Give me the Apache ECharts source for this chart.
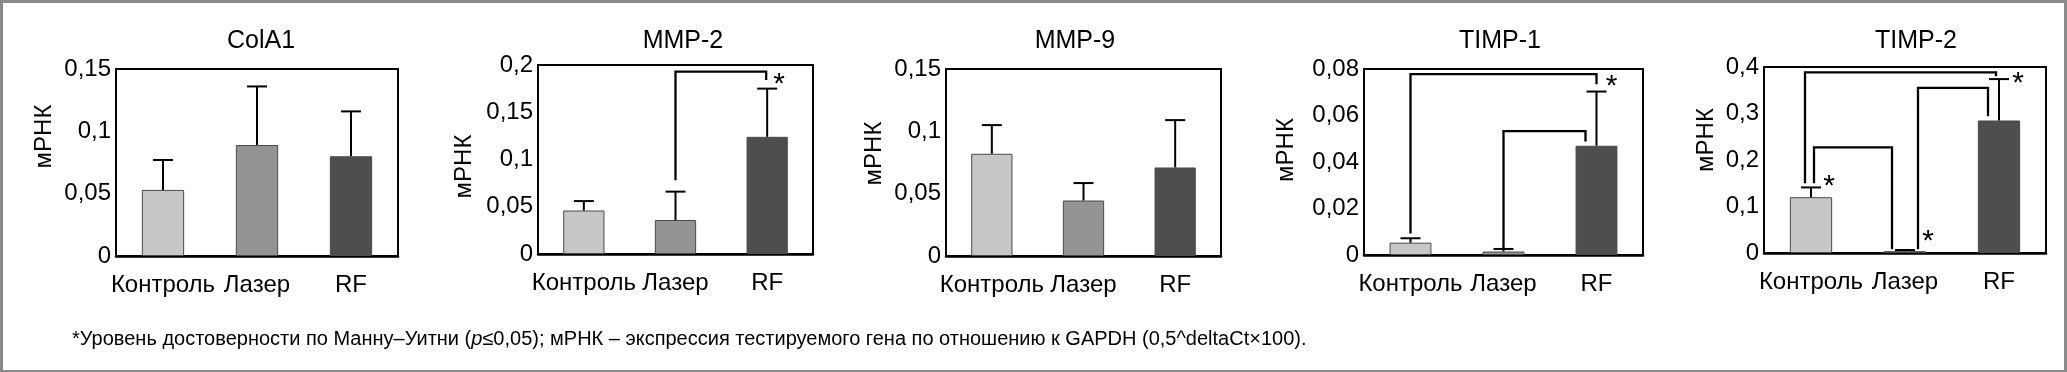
<!DOCTYPE html>
<html>
<head>
<meta charset="utf-8">
<script src="https://cdn.jsdelivr.net/npm/echarts@6/dist/echarts.min.js"></script>
<style>
html,body{margin:0;padding:0;background:#fff;}
#c{width:2067px;height:372px;box-sizing:border-box;border:3px solid #8a8a8a;border-bottom-width:2px;}
</style>
</head>
<body>
<div id="c"></div>
<script>
// ---------- data ----------
const categories = ['Контроль', 'Лазер', 'RF'];
const panelTitles = ['ColA1', 'MMP-2', 'MMP-9', 'TIMP-1', 'TIMP-2'];
const yAxisName = 'мРНК';

const colA1Mean = [0.053, 0.089, 0.080];
const colA1Sd   = [0.024, 0.047, 0.036];
const mmp2Mean  = [0.046, 0.036, 0.124];
const mmp2Sd    = [0.010, 0.030, 0.051];
const mmp9Mean  = [0.082, 0.0445, 0.071];
const mmp9Sd    = [0.023, 0.014, 0.038];
const timp1Mean = [0.0053, 0.0015, 0.047];
const timp1Sd   = [0.0019, 0.0011, 0.0233];
const timp2Mean = [0.120, 0.004, 0.285];
const timp2Sd   = [0.021, 0.0025, 0.089];

const colA1Ticks = ['0', '0,05', '0,1', '0,15'];
const mmp2Ticks  = ['0', '0,05', '0,1', '0,15', '0,2'];
const mmp9Ticks  = ['0', '0,05', '0,1', '0,15'];
const timp1Ticks = ['0', '0,02', '0,04', '0,06', '0,08'];
const timp2Ticks = ['0', '0,1', '0,2', '0,3', '0,4'];

// significance brackets: [fromCategory, fromValue, topValue, toCategory, toValue]
const colA1Brackets = [];
const mmp2Brackets  = [[1, 0.078, 0.193, 2, 0.184]];
const mmp9Brackets  = [];
const timp1Brackets = [[0, 0.0093, 0.0778, 2, 0.0734], [1, 0.0027, 0.0533, 2, 0.0488]];
const timp2Brackets = [[0, 0.150, 0.3886, 2, 0.380], [0, 0.150, 0.2273, 1, 0.008], [1, 0.008, 0.355, 2, 0.294]];

// asterisks: [category, value]
const colA1Stars = [];
const mmp2Stars  = [[2, 0.185]];
const mmp9Stars  = [];
const timp1Stars = [[2, 0.0750]];
const timp2Stars = [[0, 0.155], [1, 0.037], [2, 0.376]];

const footnoteText = ['*Уровень достоверности по Манну–Уитни (', 'p', '≤0,05); мРНК – экспрессия тестируемого гена по отношению к GAPDH (0,5^deltaCt×100).'];

// ---------- layout / style ----------
const FONT = '"Liberation Sans", Arial, sans-serif';
const barColors = ['#c6c7c9', '#939496', '#4e4e50'];
const panels = [
  {mean: colA1Mean, sd: colA1Sd, ticks: colA1Ticks, max: 0.15, step: 0.05, br: colA1Brackets, stars: colA1Stars,
   grid: {left: 113, top: 66, width: 282, height: 187}, nameGap: 60, nameShift: 26, titleX: 253,
   brShift: [], starShift: []},
  {mean: mmp2Mean, sd: mmp2Sd, ticks: mmp2Ticks, max: 0.2, step: 0.05, br: mmp2Brackets, stars: mmp2Stars,
   grid: {left: 535, top: 62, width: 275, height: 189}, nameGap: 62, nameShift: -7, titleX: 675,
   brShift: [[0, -1]], starShift: [[12, 0]]},
  {mean: mmp9Mean, sd: mmp9Sd, ticks: mmp9Ticks, max: 0.15, step: 0.05, br: mmp9Brackets, stars: mmp9Stars,
   grid: {left: 943, top: 66, width: 275, height: 187}, nameGap: 60, nameShift: 9, titleX: 1067,
   brShift: [], starShift: []},
  {mean: timp1Mean, sd: timp1Sd, ticks: timp1Ticks, max: 0.08, step: 0.02, br: timp1Brackets, stars: timp1Stars,
   grid: {left: 1361, top: 66, width: 279, height: 186}, nameGap: 66, nameShift: 12, titleX: 1492,
   brShift: [[0, 0], [0, -11]], starShift: [[15, 0]]},
  {mean: timp2Mean, sd: timp2Sd, ticks: timp2Ticks, max: 0.4, step: 0.1, br: timp2Brackets, stars: timp2Stars,
   grid: {left: 1761, top: 64, width: 282, height: 186}, nameGap: 46, nameShift: 20, titleX: 1908,
   brShift: [[-6, -3], [3, -13], [13, -11]], starShift: [[18, 0], [23, 0], [19, 0]]}
];

const chart = echarts.init(document.getElementById('c'), null, {renderer: 'canvas'});
const option = {
  animation: false,
  backgroundColor: '#fff',
  title: [], grid: [], xAxis: [], yAxis: [], series: [],
  graphic: [{
    type: 'text', left: 69, top: 326,
    style: {
      rich: {n: {font: '20px ' + FONT, fill: '#000'}, i: {font: 'italic 20px ' + FONT, fill: '#000'}},
      text: '{n|' + footnoteText[0] + '}{i|' + footnoteText[1] + '}{n|' + footnoteText[2] + '}'
    }
  }]
};

panels.forEach((p, k) => {
  option.title.push({
    text: panelTitles[k], left: p.titleX, top: 21, textAlign: 'center',
    textStyle: {fontFamily: FONT, fontSize: 25, fontWeight: 'normal', color: '#000'}
  });
  option.grid.push(Object.assign({show: true, borderColor: '#000', borderWidth: 2, backgroundColor: 'transparent'}, p.grid));
  option.xAxis.push({
    type: 'category', gridIndex: k, data: categories, boundaryGap: true,
    axisLine: {show: true, lineStyle: {color: '#000', width: 2.5}}, axisTick: {show: false},
    axisLabel: {color: '#000', fontFamily: FONT, fontSize: 24, margin: 17, interval: 0}
  });
  option.yAxis.push({
    type: 'value', gridIndex: k, min: 0, max: p.max, interval: p.step,
    name: yAxisName, nameLocation: 'middle', nameGap: p.nameGap, nameRotate: 90,
    nameTextStyle: {color: '#000', fontFamily: FONT, fontSize: 24,
      padding: p.nameShift >= 0 ? [0, 0, 0, 2 * p.nameShift] : [0, -2 * p.nameShift, 0, 0]},
    splitLine: {show: false}, axisLine: {show: false}, axisTick: {show: false},
    axisLabel: {color: '#000', fontFamily: FONT, fontSize: 24, margin: 5,
      formatter: (v, i) => p.ticks[i]}
  });
  option.series.push({
    type: 'bar', xAxisIndex: k, yAxisIndex: k, barWidth: '45%',
    data: p.mean.map((v, i) => ({value: v, itemStyle: {color: barColors[i], borderColor: '#4a4a4a', borderWidth: 1}})),
    z: 2
  });
  option.series.push({
    type: 'custom', xAxisIndex: k, yAxisIndex: k, z: 3,
    data: p.mean.map((v, i) => [i, v, v + p.sd[i]]),
    encode: {x: 0, y: [1, 2]},
    renderItem: (params, api) => {
      const b = api.coord([api.value(0), api.value(1)]);
      const t = api.coord([api.value(0), api.value(2)]);
      return {type: 'group', children: [
        {type: 'line', shape: {x1: b[0], y1: b[1], x2: t[0], y2: t[1]}, style: {stroke: '#000', lineWidth: 2}},
        {type: 'line', shape: {x1: t[0] - 10, y1: t[1], x2: t[0] + 10, y2: t[1]}, style: {stroke: '#000', lineWidth: 2}}
      ]};
    }
  });
  if (p.br.length) {
    option.series.push({
      type: 'custom', xAxisIndex: k, yAxisIndex: k, z: 4,
      data: p.br.map((b, i) => b.concat([i])),
      encode: {x: 0, y: 1},
      renderItem: (params, api) => {
        const s = p.brShift[api.value(5)];
        const a = api.coord([api.value(0), api.value(1)]);
        const at = api.coord([api.value(0), api.value(2)]);
        const c = api.coord([api.value(3), api.value(4)]);
        const x1 = a[0] + s[0], x2 = c[0] + s[1];
        return {type: 'polyline', shape: {points: [[x1, a[1]], [x1, at[1]], [x2, at[1]], [x2, c[1]]]},
          style: {stroke: '#000', lineWidth: 2.3, fill: null}};
      }
    });
  }
  if (p.stars.length) {
    option.series.push({
      type: 'custom', xAxisIndex: k, yAxisIndex: k, z: 5,
      data: p.stars.map((s, i) => s.concat([i])),
      encode: {x: 0, y: 1},
      renderItem: (params, api) => {
        const s = p.starShift[api.value(2)];
        const c = api.coord([api.value(0), api.value(1)]);
        return {type: 'text', x: c[0] + s[0], y: c[1] + s[1] + 6,
          style: {text: '*', font: '30px ' + FONT, fill: '#000', align: 'center', verticalAlign: 'middle'}};
      }
    });
  }
});

chart.setOption(option);
</script>
</body>
</html>
